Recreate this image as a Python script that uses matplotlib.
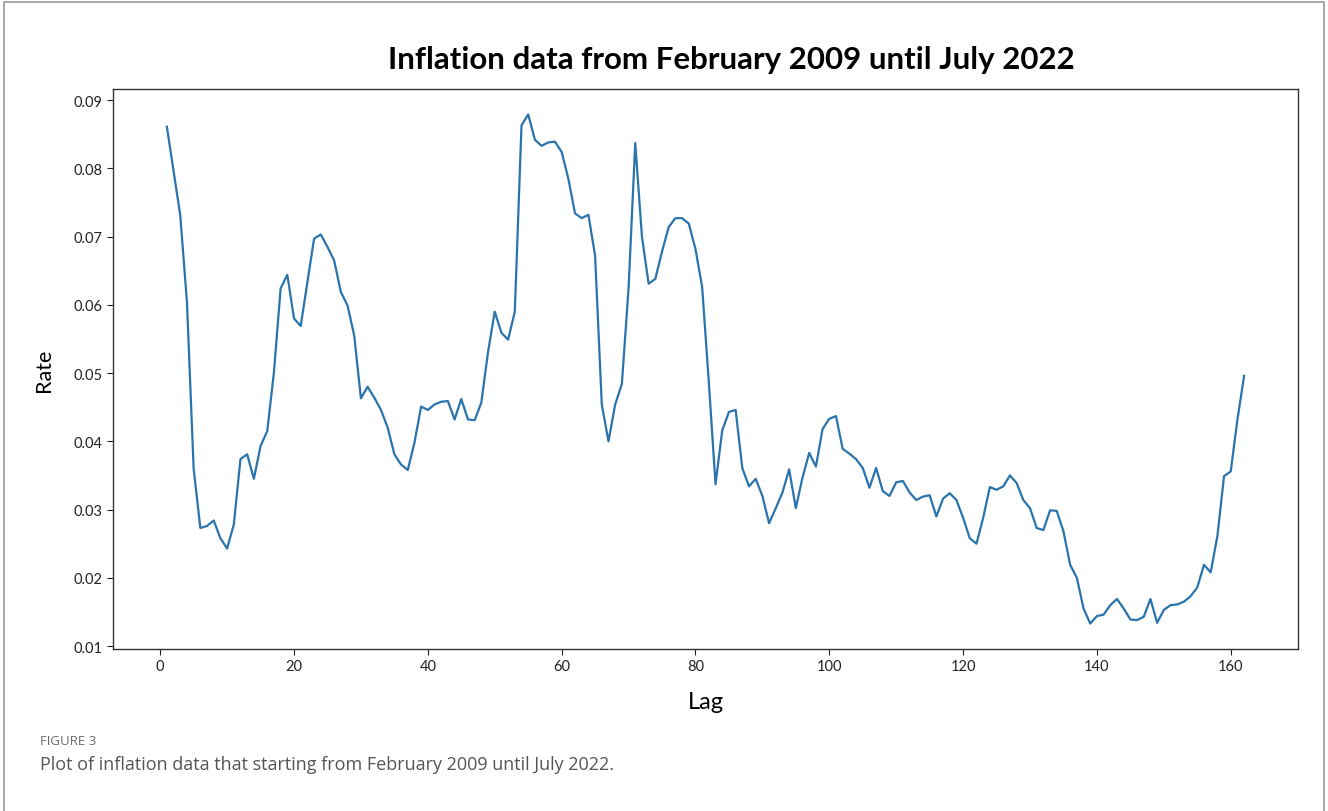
import matplotlib
matplotlib.use("Agg")
import matplotlib.pyplot as plt
from matplotlib.patches import Rectangle

# monthly inflation rate, lag 1..162 (Feb 2009 - Jul 2022)
lags = list(range(1, 163))
rate = [
    0.0861, 0.0796, 0.0731, 0.0604, 0.0360, 0.0273, 0.0276, 0.0284, 0.0258, 0.0243,
    0.0278, 0.0374, 0.0381, 0.0345, 0.0393, 0.0415, 0.0501, 0.0624, 0.0644, 0.0580,
    0.0569, 0.0633, 0.0697, 0.0703, 0.0685, 0.0665, 0.0619, 0.0599, 0.0555, 0.0463,
    0.0480, 0.0464, 0.0446, 0.0420, 0.0381, 0.0366, 0.0358, 0.0398, 0.0451, 0.0446,
    0.0454, 0.0458, 0.0459, 0.0432, 0.0462, 0.0432, 0.0431, 0.0457, 0.0531, 0.0590,
    0.0559, 0.0549, 0.0590, 0.0863, 0.0879, 0.0842, 0.0833, 0.0838, 0.0839, 0.0824,
    0.0785, 0.0734, 0.0727, 0.0732, 0.0672, 0.0454, 0.0400, 0.0454, 0.0484, 0.0624,
    0.0837, 0.0700, 0.0631, 0.0638, 0.0678, 0.0714, 0.0727, 0.0727, 0.0719, 0.0682,
    0.0626, 0.0486, 0.0337, 0.0416, 0.0443, 0.0446, 0.0361, 0.0334, 0.0345, 0.0320,
    0.0280, 0.0302, 0.0325, 0.0359, 0.0302, 0.0347, 0.0383, 0.0363, 0.0418, 0.0433,
    0.0437, 0.0389, 0.0382, 0.0374, 0.0361, 0.0332, 0.0361, 0.0327, 0.0320, 0.0340,
    0.0342, 0.0325, 0.0314, 0.0319, 0.0321, 0.0290, 0.0316, 0.0324, 0.0314, 0.0288,
    0.0258, 0.0250, 0.0288, 0.0333, 0.0329, 0.0334, 0.0350, 0.0339, 0.0314, 0.0302,
    0.0273, 0.0270, 0.0299, 0.0298, 0.0268, 0.0219, 0.0200, 0.0155, 0.0133, 0.0144,
    0.0146, 0.0160, 0.0169, 0.0155, 0.0139, 0.0138, 0.0143, 0.0169, 0.0134, 0.0153,
    0.0160, 0.0161, 0.0165, 0.0173, 0.0186, 0.0219, 0.0208, 0.0261, 0.0349, 0.0356,
    0.0432, 0.0496,
]

title = "Inflation data from February 2009 until July 2022"
caption_label = "FIGURE 3"
caption = "Plot of inflation data that starting from February 2009 until July 2022."

fig = plt.figure(figsize=(13.28, 8.12), dpi=100)

# grey frame around the whole figure panel
fig.patches.append(Rectangle((0.003, -0.01), 0.994, 1.006, transform=fig.transFigure,
                             fill=False, edgecolor="#9a9a9a", linewidth=1.2))

ax = fig.add_axes([0.0851, 0.1995, 0.8923, 0.6897])
ax.plot(lags, rate, color="#2a74ad", linewidth=1.6)

ax.set_yticks([0.01, 0.02, 0.03, 0.04, 0.05, 0.06, 0.07, 0.08, 0.09])
ax.set_xticks([0, 20, 40, 60, 80, 100, 120, 140, 160])
ax.tick_params(labelsize=10.5, colors="#222222", length=4)
for lbl in ax.get_xticklabels() + ax.get_yticklabels():
    lbl.set_family("Lato")
for s in ax.spines.values():
    s.set_color("#333333")
    s.set_linewidth(1.0)

ax.set_xlabel("Lag", fontsize=17, family="Lato", labelpad=13)
ax.set_ylabel("Rate", fontsize=15.5, family="Lato", labelpad=14)

fig.text(0.551, 0.926, title, ha="center", va="center", fontsize=22.5,
         fontweight="bold", family="Lato")

fig.text(0.03, 0.087, caption_label, ha="left", va="center", fontsize=9.5,
         color="#6b6b6b", family="Open Sans")
fig.text(0.03, 0.058, caption, ha="left", va="center", fontsize=13,
         color="#555555", family="Open Sans")

fig.savefig("out.png", dpi=100)
